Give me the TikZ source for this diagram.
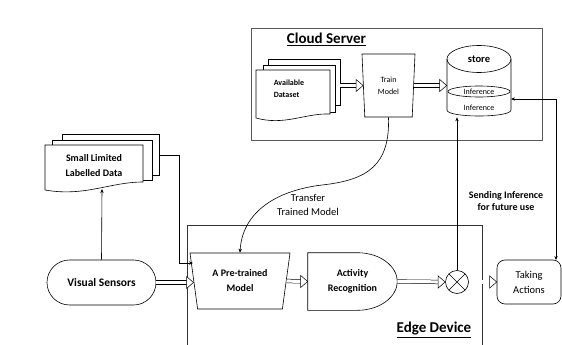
\documentclass[tikz,border=0pt]{standalone}
\usepackage{fontspec}
\setmainfont{Carlito}
\usetikzlibrary{arrows.meta,shapes.geometric,shapes.misc,calc}
\newcommand\myfs[2]{\fontsize{#1}{#2}\selectfont}
% rightward block arrow between two points: double shaft and open head
\newcommand\blockarrow[2]{%
  \draw[shaft] (#1) -- (#2);
  \draw[arrowhead] (#2) -- ++(-7pt,6pt) -- ++(0pt,-12pt) -- cycle;}

\begin{document}
\begin{tikzpicture}[x=1pt,y=-1pt,line width=0.6pt,
  every node/.style={inner sep=0pt,align=center},
  thinarrow/.style={draw,-{Stealth[length=4pt,width=3.4pt]}},
  thinboth/.style={draw,{Stealth[length=4pt,width=3.4pt]}-{Stealth[length=4pt,width=3.4pt]}},
  shaft/.style={line width=0.5pt,double=white,double distance=3.2pt,shorten >=6pt},
  arrowhead/.style={line width=0.5pt,fill=white,line join=miter},
  page/.style={draw,fill=white},
  trap/.style={draw,trapezium,shape border rotate=180,trapezium stretches body}
]
\useasboundingbox (0,0) rectangle (562,345);

% ---------------- cloud server ----------------
\node[draw=black!65,line width=0.9pt,minimum width=291pt,minimum height=112pt] (cloud) at (396.5,84) {};
\node[font=\bfseries\myfs{15}{18}] (cloudtitle) at (326.5,39) {\underline{Cloud Server}};

% available dataset (stack of documents)
\draw[page] (268,59) rectangle (340,105);
\draw[page] (263,65) rectangle (335,112);
\draw[page] (256,70) -- (330,70) -- (330,114) .. controls (305,113) and (285,126) .. (256,118) -- cycle;
\node[font=\bfseries\myfs{8}{12},align=left] (data) at (289,89) {Available\\Dataset};
\coordinate (dataedge) at (340,85.5);

% training block
\node[trap,trapezium left angle=81,trapezium right angle=81,minimum width=53pt,minimum height=63pt,
      font=\myfs{8}{12}] (train) at (388.5,85.5) {Train\\Model};

% storage cylinder
\node[minimum width=64pt,minimum height=72pt] (store) at (479,81) {};
\draw (479,59) ellipse [x radius=32,y radius=13.5];
\draw (447,59) -- (447,110) .. controls (447,118) and (511,118) .. (511,110) -- (511,59);
\draw (479,91.5) ellipse [x radius=31,y radius=5.5];
\node[font=\bfseries\myfs{10.5}{12}] (storelbl) at (479,59) {store};
\node[font=\myfs{8}{10}] (inf1) at (479,91.5) {Inference};
\node[font=\myfs{8}{10}] (inf2) at (479,108) {Inference};
\coordinate (storeport) at (511,99);

% ---------------- edge device ----------------
\draw[black!80,line width=1pt] (187,345) -- (187,225) -- (482,225) -- (482,345);
\node[font=\bfseries\myfs{15}{18}] (edgetitle) at (434,330) {\underline{Edge Device}};

\node[trap,trapezium left angle=71,trapezium right angle=71,minimum width=100pt,minimum height=56pt,
      font=\bfseries\myfs{10}{15}] (pre) at (240,281) {A Pre-trained\\Model};

\node[minimum width=89pt,minimum height=57pt,font=\bfseries\myfs{10}{15}] (act) at (352.5,281.5) {Activity\\Recognition};
\draw (act.north west) -- ([xshift=-40pt]act.north east)
  .. controls ([xshift=-17pt]act.north east) and ([yshift=15pt]act.east) .. (act.east)
  .. controls ([yshift=-15pt]act.east) and ([xshift=-17pt]act.south east) .. ([xshift=-40pt]act.south east)
  -- (act.south west) -- cycle;

\node[circle,draw,minimum size=23pt,
  path picture={\draw (path picture bounding box.north west) -- (path picture bounding box.south east)
                      (path picture bounding box.north east) -- (path picture bounding box.south west);}]
  (mix) at (457,282) {};

% ---------------- outside blocks ----------------
\node[draw,rounded corners=8pt,minimum width=64pt,minimum height=44pt,font=\myfs{10.5}{15}] (take) at (529,282) {Taking\\Actions};
\coordinate (takeport) at (556,260);

\node[draw,rounded rectangle,minimum width=109pt,minimum height=45pt,font=\bfseries\myfs{11.5}{14}] (vis) at (101.5,282.5) {Visual Sensors};

\draw[page] (62,134) rectangle (159,175);
\draw[page] (52,140) rectangle (152,180);
\draw[page] (45,145) -- (143,145) -- (143,182) .. controls (110,182) and (85,197) .. (45,190) -- cycle;
\node[font=\bfseries\myfs{10}{15}] (small) at (94,165.5) {Small Limited\\Labelled Data};
\coordinate (smallback) at (159,155);
\coordinate (smallbot) at (102,189);
\coordinate (preentry) at (193,263);

% ---------------- connectors ----------------
\blockarrow{dataedge}{dataedge -| train.west}
\blockarrow{train.east}{train.east -| store.west}
\blockarrow{vis.east}{vis.east -| pre.west}
\blockarrow{pre.east}{act.west}
\blockarrow{act.east}{mix.west}
\blockarrow{mix.east}{take.west}

\coordinate (tmid) at (322,185);
\draw[thinarrow] (train.south) .. controls (390,165) and (368,180) .. (tmid)
                 .. controls (272,191) and (242,215) .. (pre.north);
\node[font=\myfs{10.5}{14}] (transferlbl) at (308,205) {Transfer\\Trained Model};

\draw[thinarrow] (vis.north) -- (smallbot);
\draw[thinarrow] (smallback) -| ([xshift=-14pt]preentry) -- (preentry);

\draw[thinarrow] (mix.north) -- (mix.north |- store.south);
\node[font=\bfseries\myfs{10}{12}] (sendlbl) at (506,201) {Sending Inference\\for future use};

\draw[thinboth] (storeport) -| (takeport);
\end{tikzpicture}
\end{document}
